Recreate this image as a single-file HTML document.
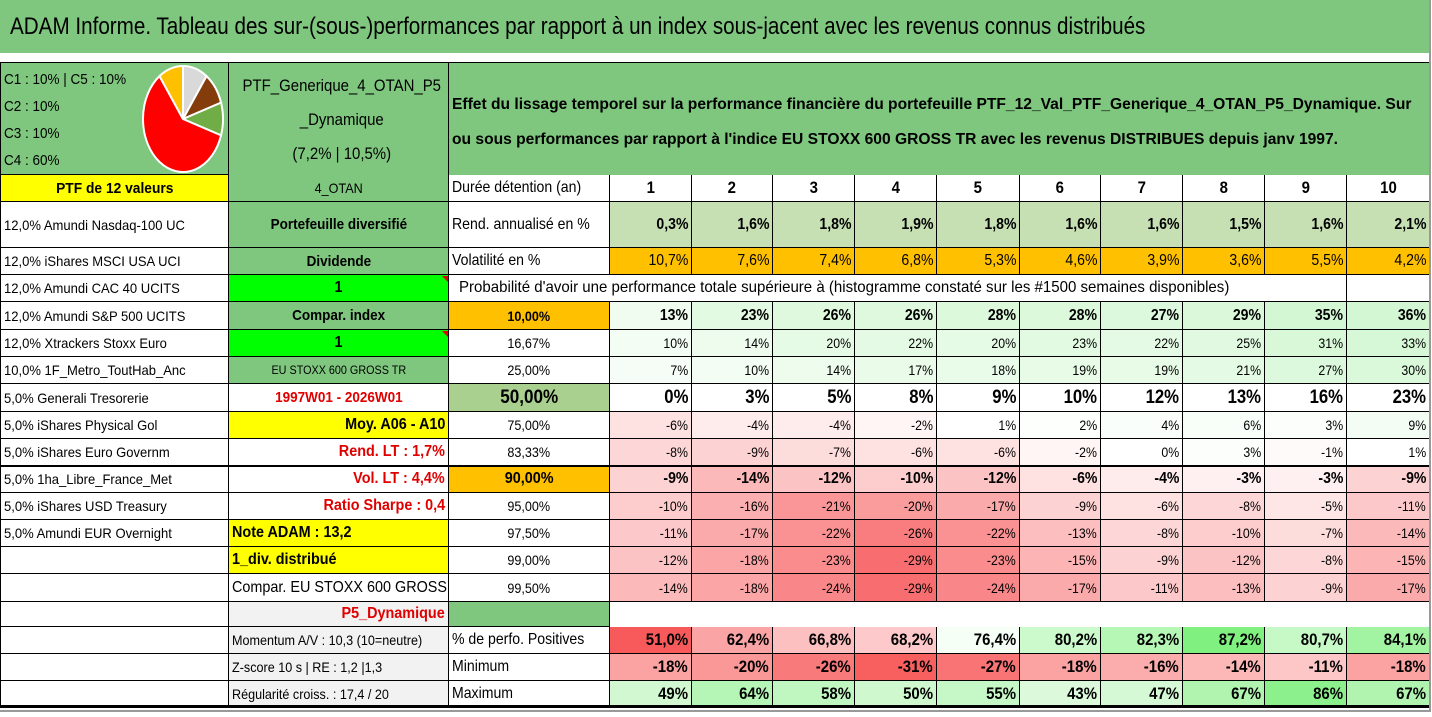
<!DOCTYPE html>
<html><head><meta charset="utf-8">
<style>
html,body{margin:0;padding:0;background:#fff;}
#root{position:relative;width:1432px;height:717px;overflow:hidden;font-family:"Liberation Sans Narrow","Liberation Sans",sans-serif;color:#000;}
.c{position:absolute;box-sizing:border-box;display:flex;align-items:center;white-space:nowrap;overflow:hidden;font-size:14px;padding:0 3px;}
.bd{border-right:1px solid #000;border-bottom:1px solid #000;}
.sq{display:inline-block;transform-origin:left center;}
</style></head>
<body>
<div id="root">
  <div class="c" style="left:0;top:0;width:1431px;height:53px;background:#7fc77f;font-size:24px;padding-left:10px;"><span class="sq" style="transform:scaleX(0.86)">ADAM Informe. Tableau des sur-(sous-)performances par rapport à un index sous-jacent avec les revenus connus distribués</span></div>
  <div class="c" style="left:0;top:62px;width:229px;height:113px;background:#7fc77f;border:1px solid #000;display:block;padding:3px 3px;line-height:27px;font-size:15px;"><span class="sq" style="transform:scaleX(0.9)">C1 : 10% | C5 : 10%<br>C2 : 10%<br>C3 : 10%<br>C4 : 60%</span></div>
  <svg style="position:absolute;left:140px;top:64px" width="86" height="110" id="pie"></svg>
  <div class="c" style="left:229px;top:62px;width:220px;height:113px;background:#7fc77f;border-top:1px solid #000;border-right:1px solid #000;display:block;text-align:center;line-height:34px;font-size:17px;padding:6px 0 0 0;"><span class="sq" style="transform:scaleX(0.88);transform-origin:center center">PTF_Generique_4_OTAN_P5<br>_Dynamique<br>(7,2% | 10,5%)</span></div>
  <div class="c" style="left:449px;top:62px;width:982px;height:113px;background:#7fc77f;border-top:1px solid #000;display:block;line-height:35px;font-size:16px;font-weight:bold;padding-top:24px;"><span class="sq" style="transform:scaleX(0.975)">Effet du lissage temporel sur la performance financière du portefeuille PTF_12_Val_PTF_Generique_4_OTAN_P5_Dynamique. Sur<br>ou sous performances par rapport à l'indice EU STOXX 600 GROSS TR avec les revenus DISTRIBUES depuis janv 1997.</span></div>
</div>
<script>
const years=["1","2","3","4","5","6","7","8","9","10"];
const rendValues=[0.3,1.6,1.8,1.9,1.8,1.6,1.6,1.5,1.6,2.1];
const volValues=[10.7,7.6,7.4,6.8,5.3,4.6,3.9,3.6,5.5,4.2];
const probLevels=["10,00%","16,67%","25,00%","50,00%","75,00%","83,33%","90,00%","95,00%","97,50%","99,00%","99,50%"];
const p10=[13,23,26,26,28,28,27,29,35,36];
const p16=[10,14,20,22,20,23,22,25,31,33];
const p25=[7,10,14,17,18,19,19,21,27,30];
const p50=[0,3,5,8,9,10,12,13,16,23];
const p75=[-6,-4,-4,-2,1,2,4,6,3,9];
const p83=[-8,-9,-7,-6,-6,-2,0,3,-1,1];
const p90=[-9,-14,-12,-10,-12,-6,-4,-3,-3,-9];
const p95=[-10,-16,-21,-20,-17,-9,-6,-8,-5,-11];
const p975=[-11,-17,-22,-26,-22,-13,-8,-10,-7,-14];
const p99=[-12,-18,-23,-29,-23,-15,-9,-12,-8,-15];
const p995=[-14,-18,-24,-29,-24,-17,-11,-13,-9,-17];
const posValues=[51.0,62.4,66.8,68.2,76.4,80.2,82.3,87.2,80.7,84.1];
const minValues=[-18,-20,-26,-31,-27,-18,-16,-14,-11,-18];
const maxValues=[49,64,58,50,55,43,47,67,86,67];
const pieShares=[10,10,10,60,10];
const holdings=["12,0% Amundi Nasdaq-100 UC","12,0% iShares MSCI USA UCI","12,0% Amundi CAC 40 UCITS","12,0% Amundi S&P 500 UCITS","12,0% Xtrackers Stoxx Euro","10,0% 1F_Metro_ToutHab_Anc","5,0% Generali Tresorerie","5,0% iShares Physical Gol","5,0% iShares Euro Governm","5,0% 1ha_Libre_France_Met","5,0% iShares USD Treasury","5,0% Amundi EUR Overnight"];

const root=document.getElementById('root');
const rowY=[175,202,248,275,302,330,357,384,412,439,466,493,520,547,574,602,627,654,681,707];
const colX=[610,692,773,855,937,1020,1101,1183,1265,1347,1430];
function cell(x,y,w,h,text,st,sx){
  const d=document.createElement('div');
  d.className='c bd';
  d.style.left=x+'px';d.style.top=y+'px';d.style.width=w+'px';d.style.height=h+'px';
  if(st)Object.assign(d.style,st);
  if(sx&&text){
    const s=document.createElement('span');
    s.className='sq';
    s.textContent=text;
    const jc=d.style.justifyContent;
    s.style.transformOrigin=(jc==='flex-end'?'right':jc==='center'?'center':'left')+' center';
    s.style.transform='scaleX('+sx+')';
    d.appendChild(s);
  } else d.textContent=text;
  root.appendChild(d);
  return d;
}
function mix(a,b,t){t=Math.max(0,Math.min(1,t));const p=s=>[1,3,5].map(i=>parseInt(s.substr(i,2),16));const A=p(a),B=p(b);return 'rgb('+A.map((v,i)=>Math.round(v+(B[i]-v)*t)).join(',')+')';}
function fmt(v,dec){return v.toFixed(dec).replace('.',',')+'%';}
// column A
const a0=cell(0,175,229,27,"PTF de 12 valeurs",{background:'#ffff00',justifyContent:'center',fontWeight:'bold',borderLeft:'1px solid #000',fontSize:'15px'},0.92);


for(let r=1;r<19;r++){
  const t=holdings[r-1]||"";
  const d=cell(0,rowY[r],229,rowY[r+1]-rowY[r],t,{borderLeft:'1px solid #000'},0.93);
  
  
}
// column B
const G='#7fc77f';
const bSpec=[
 ["4_OTAN",{background:G,justifyContent:'center',fontSize:'14px'}],
 ["Portefeuille diversifié",{background:G,justifyContent:'center',fontWeight:'bold',fontSize:'15px'}],
 ["Dividende",{background:G,justifyContent:'center',fontWeight:'bold',fontSize:'15px'}],
 ["1",{background:'#00ff00',justifyContent:'center',fontWeight:'bold',fontSize:'16px'}],
 ["Compar. index",{background:G,justifyContent:'center',fontWeight:'bold',fontSize:'15px'}],
 ["1",{background:'#00ff00',justifyContent:'center',fontWeight:'bold',fontSize:'16px'}],
 ["EU STOXX 600 GROSS TR",{background:G,justifyContent:'center',fontSize:'12px'}],
 ["1997W01 - 2026W01",{color:'#e00000',justifyContent:'center',fontWeight:'bold',fontSize:'15px'}],
 ["Moy. A06 - A10",{background:'#ffff00',justifyContent:'flex-end',fontWeight:'bold',fontSize:'16px'}],
 ["Rend. LT : 1,7%",{color:'#e00000',justifyContent:'flex-end',fontWeight:'bold',fontSize:'16px'}],
 ["Vol. LT : 4,4%",{color:'#e00000',justifyContent:'flex-end',fontWeight:'bold',fontSize:'16px'}],
 ["Ratio Sharpe : 0,4",{color:'#e00000',justifyContent:'flex-end',fontWeight:'bold',fontSize:'16px'}],
 ["Note ADAM : 13,2",{background:'#ffff00',fontWeight:'bold',fontSize:'16px'}],
 ["1_div. distribué",{background:'#ffff00',fontWeight:'bold',fontSize:'16px'}],
 ["Compar. EU STOXX 600 GROSS TR",{fontSize:'16px'}],
 ["P5_Dynamique",{background:'#f2f2f2',color:'#e00000',justifyContent:'flex-end',fontWeight:'bold',fontSize:'16px'}],
 ["Momentum A/V : 10,3 (10=neutre)",{background:'#f2f2f2',fontSize:'14px'}],
 ["Z-score 10 s | RE : 1,2 |1,3",{background:'#f2f2f2',fontSize:'14px'}],
 ["Régularité croiss. : 17,4 / 20",{background:'#f2f2f2',fontSize:'14px'}]
];
bSpec.forEach((s,i)=>{
  const d=cell(229,rowY[i],220,rowY[i+1]-rowY[i],s[0],s[1],0.9);
  
  
});
// column C labels
const cSpec={0:"Durée détention (an)",1:"Rend. annualisé en %",2:"Volatilité en %",16:"% de perfo. Positives",17:"Minimum",18:"Maximum"};
for(const k in cSpec){
  const r=+k;
  const d=cell(449,rowY[r],161,rowY[r+1]-rowY[r],cSpec[k],{fontSize:'16px'},0.88);
  
  
}
const probTxt=cell(449,275,816,27,"Probabilité d'avoir une performance totale supérieure à (histogramme constaté sur les #1500 semaines disponibles)",{fontSize:'16px',paddingLeft:'10px',borderRight:'none'},0.94);


cell(1265,275,82,27,"",{});cell(1347,275,83,27,"",{});
const p5g=cell(449,602,161,25,"",{background:G});


const probRows=[p10,p16,p25,p50,p75,p83,p90,p95,p975,p99,p995];
probLevels.forEach((lv,i)=>{
  const r=4+i;
  const st={justifyContent:'center',fontSize:'14px'};
  if(i===0){st.background='#ffc000';st.fontWeight='bold';}
  if(i===3){st.background='#a9d08e';st.fontWeight='bold';st.fontSize='19px';}
  if(i===6){st.background='#ffc000';st.fontWeight='bold';st.fontSize='16px';}
  const d=cell(449,rowY[r],161,rowY[r+1]-rowY[r],lv,st,0.9);
  
  
});
// data columns
function dataRow(r,vals,colorFn,fmtFn,st,name){
  vals.forEach((v,j)=>{
    const s=Object.assign({justifyContent:'flex-end',background:colorFn(v)},st||{});
    const d=cell(colX[j],rowY[r],colX[j+1]-colX[j],rowY[r+1]-rowY[r],fmtFn(v),s,0.88);
    
    
  });
}
dataRow(0,years.map(Number),()=>'#fff',v=>String(v),{justifyContent:'center',fontWeight:'bold',fontSize:'17px'},'year-header');
dataRow(1,rendValues,()=>'#c6e0b4',v=>fmt(v,1),{fontWeight:'bold',fontSize:'16px'},'annual-return');
dataRow(2,volValues,()=>'#ffc000',v=>fmt(v,1),{fontSize:'16px'},'volatility');
function heat(v){return v<0?mix('#ffffff','#f8696b',-v/30):mix('#ffffff','#cdf6cd',v/40);}
probRows.forEach((arr,i)=>{
  const st={fontSize:'14px'};
  if(i===0||i===6){st.fontWeight='bold';st.fontSize='16px';}
  if(i===3){st.fontWeight='bold';st.fontSize='19px';}
  dataRow(4+i,arr,i===3?()=>'#fff':heat,v=>fmt(v,0),st,'probability-cell');
});
dataRow(16,posValues,v=>v<76.4?mix('#ffffff','#f8595b',(76.4-v)/25.4):mix('#f6fff6','#80f080',(v-76.4)/10.8),v=>fmt(v,1),{fontWeight:'bold',fontSize:'17px'},'positive-share');
dataRow(17,minValues,v=>mix('#ffffff','#f86060',-v/31),v=>fmt(v,0),{fontWeight:'bold',fontSize:'17px'},'minimum');
dataRow(18,maxValues,v=>mix('#e2fae2','#8cf08c',(v-40)/46),v=>fmt(v,0),{fontWeight:'bold',fontSize:'17px'},'maximum');
// thick lines
[[466,2],[706,3]].forEach(l=>{const d=document.createElement('div');d.style.cssText='position:absolute;left:0;width:1431px;background:#000;top:'+(l[0]-1)+'px;height:'+l[1]+'px';root.appendChild(d);});
const frame=document.createElement('div');
frame.style.cssText='position:absolute;left:0;top:0;width:1431px;height:712px;border-right:2px solid #999;border-bottom:2px solid #999;box-sizing:border-box;pointer-events:none';
root.appendChild(frame);
// red triangle markers
[275,330].forEach(y=>{const t=document.createElement('div');t.style.cssText='position:absolute;left:442px;top:'+(y+1)+'px;width:0;height:0;border-left:6px solid transparent;border-top:6px solid #e00000';root.appendChild(t);});
// pie
const pie=document.getElementById('pie');
const pieColors=['#d9d9d9','#843c0c','#70ad47','#ff0000','#ffc000'];
let acc=0;const tot=pieShares.reduce((a,b)=>a+b,0);
const cx=43,cy=55,rx=40,ry=53;
pieShares.forEach((s,i)=>{
  const a0=acc/tot*2*Math.PI,a1=(acc+s)/tot*2*Math.PI;acc+=s;
  const x0=cx+rx*Math.sin(a0),y0=cy-ry*Math.cos(a0),x1=cx+rx*Math.sin(a1),y1=cy-ry*Math.cos(a1);
  const p=document.createElementNS('http://www.w3.org/2000/svg','path');
  p.setAttribute('d','M'+cx+','+cy+'L'+x0+','+y0+'A'+rx+','+ry+' 0 '+((a1-a0)>Math.PI?1:0)+' 1 '+x1+','+y1+'Z');
  p.setAttribute('fill',pieColors[i]);p.setAttribute('stroke','#fff');p.setAttribute('stroke-width','2');
  
  
  pie.appendChild(p);
});
</script>
</body></html>
